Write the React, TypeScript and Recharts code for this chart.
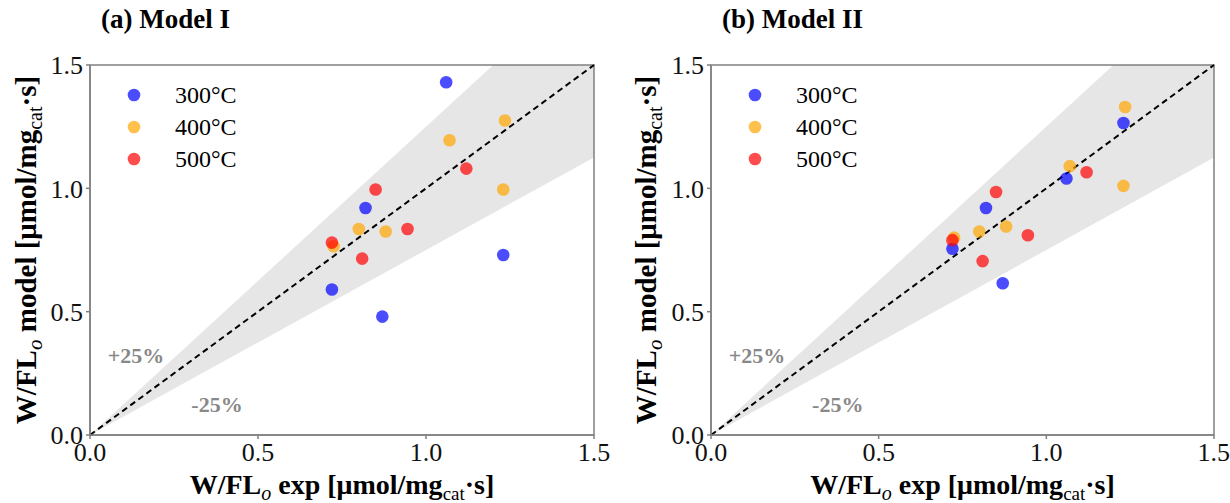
import { ComposedChart, Area, Scatter, XAxis, YAxis, ReferenceLine, ReferenceArea, ReferenceDot } from "recharts";

const temps = ["300°C", "400°C", "500°C"];
const tempColors = ["#0000ff", "#ffa500", "#ff0000"];

// experimental values (same for both models)
const exp300 = [0.72, 0.82, 0.87, 1.06, 1.23];
const exp400 = [0.725, 0.8, 0.88, 1.07, 1.23, 1.235];
const exp500 = [0.72, 0.81, 0.85, 0.945, 1.12];

const modelI300 = [0.59, 0.92, 0.48, 1.43, 0.73];
const modelI400 = [0.765, 0.835, 0.825, 1.195, 0.995, 1.275];
const modelI500 = [0.78, 0.715, 0.995, 0.835, 1.08];

const modelII300 = [0.755, 0.92, 0.615, 1.04, 1.265];
const modelII400 = [0.8, 0.825, 0.845, 1.09, 1.01, 1.33];
const modelII500 = [0.79, 0.705, 0.985, 0.81, 1.065];

// +/-25% band
const bandX = [0, 1.2, 1.5];
const bandLow = [0, 0.9, 1.125];
const bandHigh = [0, 1.5, 1.5];

const axisTicks = [0, 0.5, 1.0, 1.5];

const serif = '"Liberation Serif", "Times New Roman", serif';
const axisGray = "#808080";

const bandData = bandX.map((x, i) => ({ x, band: [bandLow[i], bandHigh[i]] }));
const zip = (xs: number[], ys: number[]) => xs.map((x, i) => ({ x, y: ys[i] }));

const Dot = (color: string) => (p: any) => (
  <circle cx={p.cx} cy={p.cy} r={6.3} fill={color} fillOpacity={0.7} />
);

const YTitle = ({ viewBox }: any) => {
  const cx = viewBox.x + 36;
  const cy = viewBox.y + viewBox.height / 2;
  return (
    <text x={cx} y={cy} transform={`rotate(-90 ${cx} ${cy})`} textAnchor="middle" fontFamily={serif} fontSize={29} fontWeight="bold" fill="#000">
      <tspan>W/FL</tspan>
      <tspan fontStyle="italic" fontWeight="normal" fontSize={21} dy={6}>o</tspan>
      <tspan dy={-6}> model [μmol/mg</tspan>
      <tspan fontWeight="normal" fontSize={20} dy={6}>cat</tspan>
      <tspan dy={-6}>·s]</tspan>
    </text>
  );
};

const XTitle = ({ viewBox }: any) => {
  const cx = viewBox.x + viewBox.width / 2;
  const cy = viewBox.y + 59;
  return (
    <text x={cx} y={cy} textAnchor="middle" fontFamily={serif} fontSize={28} fontWeight="bold" fill="#000">
      <tspan>W/FL</tspan>
      <tspan fontStyle="italic" fontWeight="normal" fontSize={20} dy={6}>o</tspan>
      <tspan dy={-6}> exp [μmol/mg</tspan>
      <tspan fontWeight="normal" fontSize={19} dy={6}>cat</tspan>
      <tspan dy={-6}>·s]</tspan>
    </text>
  );
};

const PctText = (value: string) => (p: any) => {
  const vb = p.viewBox;
  const cx = vb.x + (vb.width || 0) / 2;
  const cy = vb.y + (vb.height || 0) / 2;
  return (
    <text x={cx} y={cy} dy="0.35em" textAnchor="middle" fontFamily={serif} fontSize={22} fontWeight="bold" fill="#888">
      {value}
    </text>
  );
};

interface PanelProps {
  title: string;
  left: number;
  width: number;
  yWidth: number;
  right: number;
  m300: number[];
  m400: number[];
  m500: number[];
}

const tickStyle = { fill: "#111", fontSize: 26, fontFamily: serif };

const Panel = ({ title, left, width, yWidth, right, m300, m400, m500 }: PanelProps) => {
  const plotLeft = left + yWidth;
  const series = [zip(exp300, m300), zip(exp400, m400), zip(exp500, m500)];
  return (
    <>
      <div style={{ position: "absolute", left: plotLeft + 11, top: 4, fontFamily: serif, fontWeight: "bold", fontSize: 27, whiteSpace: "nowrap" }}>
        {title}
      </div>
      <div style={{ position: "absolute", left, top: 0 }}>
        <ComposedChart width={width} height={503} data={bandData} margin={{ top: 65, right, bottom: 0, left: 0 }}>
          <XAxis
            dataKey="x"
            type="number"
            domain={[0, 1.5]}
            ticks={axisTicks}
            allowDataOverflow
            tickFormatter={(v: number) => v.toFixed(1)}
            height={68}
            tickSize={4}
            tickMargin={4}
            stroke={axisGray}
            strokeWidth={1.5}
            fontSize={26}
            fontFamily={serif}
            tick={tickStyle}
            label={{ content: (p: any) => <XTitle viewBox={p.viewBox} /> }}
          />
          <YAxis
            type="number"
            domain={[0, 1.5]}
            ticks={axisTicks}
            allowDataOverflow
            tickFormatter={(v: number) => v.toFixed(1)}
            width={yWidth}
            tickSize={4}
            tickMargin={3}
            stroke={axisGray}
            strokeWidth={1.5}
            fontSize={26}
            fontFamily={serif}
            tick={tickStyle}
            label={{ content: (p: any) => <YTitle viewBox={p.viewBox} /> }}
          />
          <Area type="linear" dataKey="band" stroke="none" fill="#808080" fillOpacity={0.2} isAnimationActive={false} />
          <ReferenceArea x1={0} x2={1.5} y1={0} y2={1.5} fill="none" fillOpacity={0} stroke={axisGray} strokeWidth={1.5} />
          <ReferenceLine segment={[{ x: 0, y: 0 }, { x: 1.5, y: 1.5 }]} stroke="#000" strokeWidth={2} strokeDasharray="6 4" />
          <ReferenceDot x={0.137} y={0.324} r={0} fill="none" stroke="none" label={{ content: PctText("+25%") }} />
          <ReferenceDot x={0.378} y={0.126} r={0} fill="none" stroke="none" label={{ content: PctText("-25%") }} />
          {series.map((d, i) => (
            <Scatter key={temps[i]} name={temps[i]} data={d} dataKey="y" shape={Dot(tempColors[i])} isAnimationActive={false} />
          ))}
        </ComposedChart>
      </div>
      {temps.map((t, i) => (
        <div key={t}>
          <svg style={{ position: "absolute", left: plotLeft + 37, top: 88 + i * 32 }} width={14} height={14}>
            <circle cx={7} cy={7} r={6.3} fill={tempColors[i]} fillOpacity={0.7} />
          </svg>
          <div style={{ position: "absolute", left: plotLeft + 85, top: 95 + i * 32 - 15, fontFamily: serif, fontSize: 24, lineHeight: "30px", whiteSpace: "nowrap" }}>
            {t}
          </div>
        </div>
      ))}
    </>
  );
};

export default function App() {
  return (
    <div style={{ position: "absolute", left: 0, top: 0, width: 1230, height: 503, background: "#fff", overflow: "hidden" }}>
      <Panel title="(a) Model I" left={0} width={620} yWidth={90} right={26} m300={modelI300} m400={modelI400} m500={modelI500} />
      <Panel title="(b) Model II" left={620} width={610} yWidth={91} right={16} m300={modelII300} m400={modelII400} m500={modelII500} />
    </div>
  );
}
